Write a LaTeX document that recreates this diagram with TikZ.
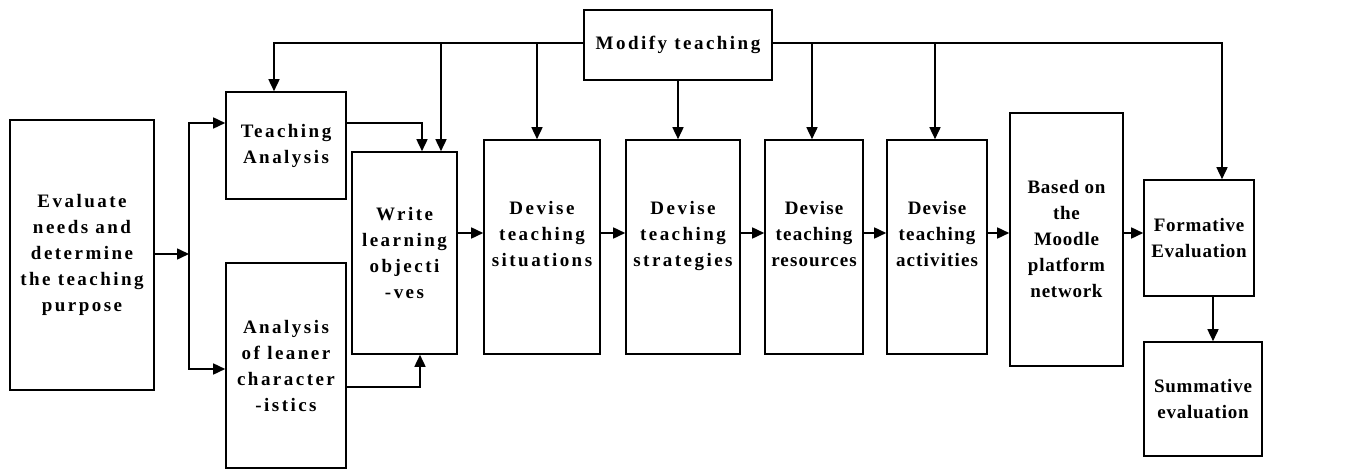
\documentclass[tikz,border=0pt]{standalone}
\usepackage{fontspec}
\setmainfont{Liberation Serif}
\newfontfamily\stagefont{Liberation Serif}[LetterSpace=13]
\newfontfamily\snugfont{Liberation Serif}[LetterSpace=6]
\newfontfamily\tightfont{Liberation Serif}[LetterSpace=4]
\usetikzlibrary{arrows.meta}
\tikzset{
  stage/.style={draw,line width=1.6pt,align=center,inner sep=2pt,
    font=\stagefont\bfseries\fontsize{19}{26}\selectfont},
  snug/.style={font=\snugfont\bfseries\fontsize{19}{26}\selectfont},
  tight/.style={font=\tightfont\bfseries\fontsize{19}{26}\selectfont},
  flow/.style={line width=1.6pt,-{Triangle[length=12pt,width=11pt]}}
}
\begin{document}
\begin{tikzpicture}[x=1pt,y=-1pt]
\useasboundingbox (0,0) rectangle (1348,470);
\node[stage,minimum width=144pt,minimum height=270pt] (eval) at (82,255) {Evaluate\\needs and\\determine\\the teaching\\purpose};
\node[stage,minimum width=120pt,minimum height=107pt] (tana) at (286,145.5) {Teaching\\Analysis};
\node[stage,minimum width=120pt,minimum height=205pt] (lean) at (286,365.5) {Analysis\\of leaner\\character\\-istics};
\node[stage,minimum width=105pt,minimum height=202pt] (write) at (404.5,253) {Write\\learning\\objecti\\-ves};
\node[stage,minimum width=116pt,minimum height=214pt] (sit) at (542,247) {Devise\\teaching\\situations\\\mbox{}};
\node[stage,minimum width=114pt,minimum height=214pt] (strat) at (683,247) {Devise\\teaching\\strategies\\\mbox{}};
\node[stage,snug,minimum width=98pt,minimum height=214pt] (res) at (814,247) {Devise\\teaching\\resources\\\mbox{}};
\node[stage,snug,minimum width=100pt,minimum height=214pt] (act) at (937,247) {Devise\\teaching\\activities\\\mbox{}};
\node[stage,tight,minimum width=113pt,minimum height=253pt] (moodle) at (1066.5,239.5) {Based on\\the\\Moodle\\platform\\network};
\node[stage,tight,minimum width=110pt,minimum height=116pt] (form) at (1199,238) {Formative\\Evaluation};
\node[stage,tight,minimum width=118pt,minimum height=114pt] (summ) at (1203,399) {Summative\\evaluation};
\node[stage,minimum width=188pt,minimum height=70pt] (modify) at (678,45) {Modify teaching};
\coordinate (split) at (189,254);
\coordinate (lvl) at (0,233);
\coordinate (bus) at (0,43);
% left part
\draw[flow] (eval.east |- split) -- (split);
\draw[flow] (split) |- ([yshift=22.5]tana.west);
\draw[flow] (split) |- ([yshift=-3.5]lean.west);
\draw[flow] ([yshift=22.5]tana.east) -| ([xshift=17.5]write.north);
\draw[flow] ([yshift=-21.5]lean.east) -| ([xshift=15.5]write.south);
% main chain
\foreach \u/\v in {write/sit,sit/strat,strat/res,res/act,act/moodle,moodle/form}
  \draw[flow] (\u.east |- lvl) -- (\v.west |- lvl);
\draw[flow] ([xshift=14]form.south) -- ([xshift=14]form.south |- summ.north);
% feedback from modify
\draw[flow] (modify.west |- bus) -| ([xshift=-12]tana.north);
\draw[flow] (modify.east |- bus) -| ([xshift=23]form.north);
\draw[flow] (modify.south) -- (modify.south |- strat.north);
\foreach \n/\s in {write/36.5,sit/-5,res/-2,act/-2}
  \draw[flow] ([xshift=\s]\n.north |- bus) -- ([xshift=\s]\n.north);
\end{tikzpicture}
\end{document}
